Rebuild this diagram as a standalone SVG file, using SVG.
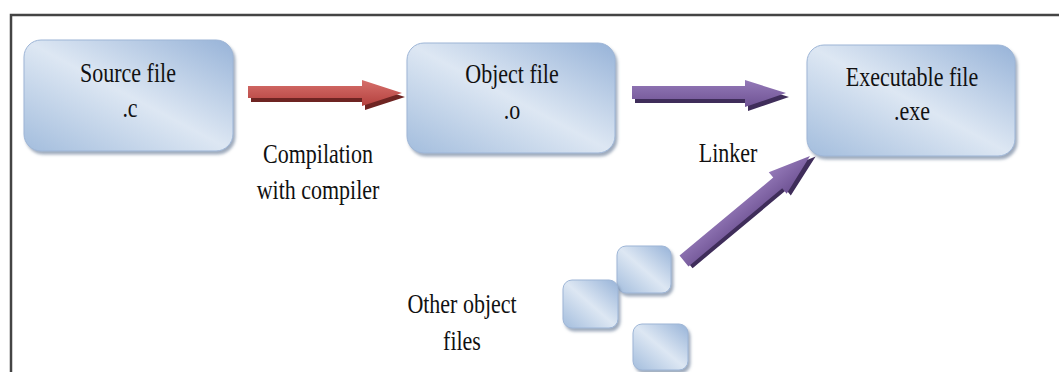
<svg xmlns="http://www.w3.org/2000/svg" width="1059" height="372" viewBox="0 0 1059 372">
<style>
.t{font-family:"Liberation Serif","Times New Roman",serif;font-size:22px;fill:#111;text-anchor:middle}
.box{fill:url(#bg);stroke:#9db5d6;stroke-width:1;filter:url(#sh)}
</style>
<defs>
<linearGradient id="bg" x1="0" y1="1" x2="1" y2="0">
<stop offset="0" stop-color="#a3bddd"/>
<stop offset="0.5" stop-color="#dde7f3"/>
<stop offset="1" stop-color="#97b3d8"/>
</linearGradient>
<linearGradient id="rg" x1="0" y1="0" x2="0" y2="1">
<stop offset="0" stop-color="#d66f6b"/>
<stop offset="1" stop-color="#b4413e"/>
</linearGradient>
<linearGradient id="pg" x1="0" y1="0" x2="0" y2="1">
<stop offset="0" stop-color="#9479b8"/>
<stop offset="1" stop-color="#6f5394"/>
</linearGradient>
<filter id="sh" x="-10%" y="-10%" width="125%" height="130%">
<feDropShadow dx="2" dy="3" stdDeviation="1.5" flood-color="#5f7390" flood-opacity="0.6"/>
</filter>
</defs>
<path d="M11 372 V15 H1059" fill="none" stroke="#444" stroke-width="2.5"/>
<g id="source">
<rect class="box" x="24" y="40" width="209" height="111" rx="17"/>
<text class="t" transform="translate(128,82) scale(1,1.22)">Source file</text>
<text class="t" transform="translate(130,117) scale(1,1.22)">.c</text>
</g>
<g id="object">
<rect class="box" x="407" y="43" width="208" height="110" rx="17"/>
<text class="t" transform="translate(512,83) scale(1,1.22)">Object file</text>
<text class="t" transform="translate(512,119) scale(1,1.22)">.o</text>
</g>
<g id="exe">
<rect class="box" x="807" y="45" width="208" height="111" rx="17"/>
<text class="t" transform="translate(912,86) scale(1,1.22)">Executable file</text>
<text class="t" transform="translate(912,120) scale(1,1.22)">.exe</text>
</g>
<g id="others">
<rect class="box" x="617" y="246" width="54" height="47" rx="9"/>
<rect class="box" x="563" y="280" width="55" height="48" rx="9"/>
<rect class="box" x="633" y="324" width="55" height="46" rx="9"/>
<text class="t" transform="translate(462,313) scale(1,1.22)">Other object</text>
<text class="t" transform="translate(462,350) scale(1,1.22)">files</text>
</g>
<g id="connectors">
<polygon points="251,90 365,90 365,84 405,97 365,110 365,102 251,102" fill="#6e2422"/>
<polygon points="248,86 362,86 362,80 402,93 362,106 362,98 248,98" fill="url(#rg)"/>
<polygon points="635,90 748,90 748,84 789,97 748,111 748,103 635,103" fill="#3f2d5a"/>
<polygon points="632,86 745,86 745,80 786,93 745,107 745,99 632,99" fill="url(#pg)"/>
<g transform="translate(684,261) rotate(-39.8)">
<polygon points="0,-5 122,-5 122,-12 166,2 122,16 122,9 0,9" fill="#3f2d5a" transform="translate(2,2)"/>
<polygon points="0,-7 122,-7 122,-14 164,0 122,14 122,7 0,7" fill="url(#pg)"/>
</g>
<text class="t" transform="translate(318,163) scale(1,1.22)">Compilation</text>
<text class="t" transform="translate(318,199) scale(1,1.22)">with compiler</text>
<text class="t" transform="translate(728,162) scale(1,1.22)">Linker</text>
</g>
</svg>
